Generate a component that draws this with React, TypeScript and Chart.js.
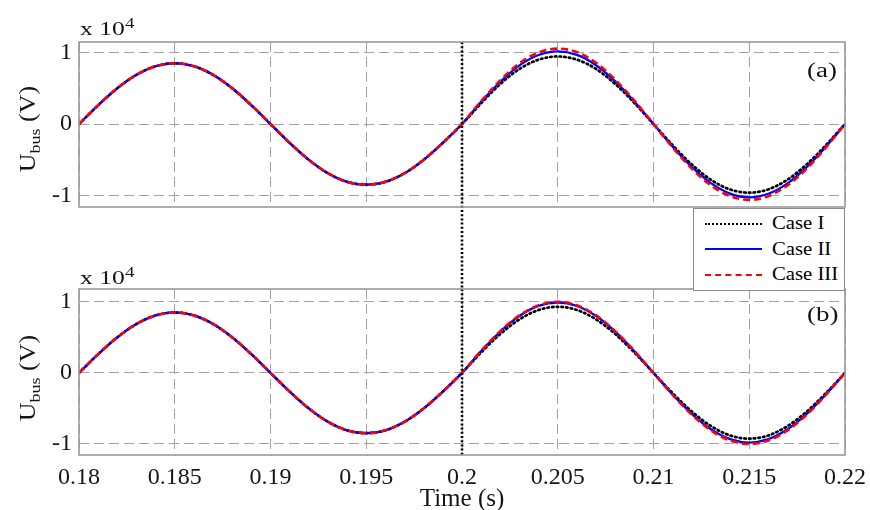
import React, { useEffect, useRef } from "react";
import { Chart, registerables } from "chart.js";
Chart.register(...registerables);

// Time (s)
const timeS = [
  0.18, 0.181, 0.182, 0.183, 0.184, 0.185, 0.186, 0.187, 0.188, 0.189,
  0.19, 0.191, 0.192, 0.193, 0.194, 0.195, 0.196, 0.197, 0.198, 0.199,
  0.2, 0.201, 0.202, 0.203, 0.204, 0.205, 0.206, 0.207, 0.208, 0.209,
  0.21, 0.211, 0.212, 0.213, 0.214, 0.215, 0.216, 0.217, 0.218, 0.219, 0.22,
];

// U_bus (x10^4 V) common to all cases, 0.180 .. 0.199 s
const preFault = [
  0, 0.263, 0.5, 0.688, 0.808, 0.85, 0.808, 0.688, 0.5, 0.263,
  0, -0.263, -0.5, -0.688, -0.808, -0.848, -0.808, -0.688, -0.5, -0.263,
];

// 0.200 .. 0.220 s, panel (a)
const caseIa = [
  0, 0.29, 0.56, 0.77, 0.9, 0.945, 0.9, 0.77, 0.56, 0.295,
  0, -0.297, -0.565, -0.78, -0.915, -0.96, -0.913, -0.777, -0.564, -0.296, 0,
];
const caseIIa = [
  0, 0.31, 0.59, 0.82, 0.965, 1.015, 0.966, 0.822, 0.598, 0.315,
  0, -0.316, -0.6, -0.826, -0.972, -1.025, -0.975, -0.83, -0.603, -0.317, 0,
];
const caseIIIa = [
  0, 0.32, 0.61, 0.85, 1.0, 1.055, 1.005, 0.855, 0.62, 0.327,
  0, -0.328, -0.624, -0.858, -1.008, -1.06, -1.008, -0.858, -0.624, -0.328, 0,
];

// 0.200 .. 0.220 s, panel (b)
const caseIb = [
  0, 0.287, 0.547, 0.752, 0.885, 0.93, 0.885, 0.752, 0.547, 0.287,
  0, -0.286, -0.544, -0.748, -0.88, -0.925, -0.88, -0.748, -0.544, -0.286, 0,
];
const caseIIb = [
  0, 0.306, 0.582, 0.801, 0.942, 0.99, 0.941, 0.8, 0.58, 0.305,
  0, -0.303, -0.576, -0.793, -0.932, -0.98, -0.932, -0.793, -0.576, -0.303, 0,
];
const caseIIIb = [
  0, 0.309, 0.588, 0.809, 0.951, 1.0, 0.951, 0.809, 0.588, 0.309,
  0, -0.309, -0.588, -0.809, -0.951, -1.0, -0.951, -0.809, -0.588, -0.309, 0,
];

const seriesLabels = ["Case I", "Case II", "Case III"];
const xTickValues = [0.18, 0.185, 0.19, 0.195, 0.2, 0.205, 0.21, 0.215, 0.22];
const xTickLabels = ["0.18", "0.185", "0.19", "0.195", "0.2", "0.205", "0.21", "0.215", "0.22"];
const yTickValues = [-1, 0, 1];
const yTickLabels = ["-1", "0", "1"];
const faultTime = 0.2;

const SERIF = "'Liberation Serif', 'DejaVu Serif', serif";
const GRID = "#a3a3a3";
const TEXT = "#151515";

const framePlugin = {
  id: "frame",
  afterDatasetsDraw(chart: any, _args: any, opts: any) {
    const { ctx, chartArea } = chart;
    const x = chart.scales.x.getPixelForValue(faultTime);
    ctx.save();
    ctx.strokeStyle = "#000";
    ctx.lineWidth = 2.6;
    ctx.setLineDash([2, 2.2]);
    ctx.beginPath();
    ctx.moveTo(x, chartArea.top);
    ctx.lineTo(x, chartArea.bottom + (opts.extendBottom || 0));
    ctx.stroke();
    ctx.restore();
  },
  afterDraw(chart: any) {
    const { ctx, chartArea } = chart;
    ctx.save();
    ctx.strokeStyle = "#9a9a9a";
    ctx.lineWidth = 1.6;
    ctx.setLineDash([]);
    ctx.strokeRect(chartArea.left, chartArea.top, chartArea.right - chartArea.left, chartArea.bottom - chartArea.top);
    ctx.restore();
  },
};

function makeDataset(label: string, values: number[], color: string, dash: number[], width: number, order: number, cap: string) {
  return {
    label,
    data: timeS.map((t, i) => ({ x: t, y: values[i] })),
    borderColor: color,
    borderWidth: width,
    borderDash: dash,
    borderCapStyle: cap,
    pointRadius: 0,
    fill: false,
    cubicInterpolationMode: "monotone",
    order,
  };
}

function makeConfig(s1: number[], s2: number[], s3: number[], bottom: boolean): any {
  return {
    type: "line",
    data: {
      datasets: [
        makeDataset(seriesLabels[0], preFault.concat(s1), "#000000", [1.5, 3.2], 2.7, 3, "round"),
        makeDataset(seriesLabels[1], preFault.concat(s2), "#0000ff", [], 2.3, 2, "butt"),
        makeDataset(seriesLabels[2], preFault.concat(s3), "#ff0000", [7, 4], 2.6, 1, "butt"),
      ],
    },
    options: {
      animation: false,
      responsive: false,
      maintainAspectRatio: false,
      layout: {
        padding: bottom
          ? { top: 289, right: 25, bottom: 0, left: 0 }
          : { top: 42, right: 25, bottom: 303, left: 0 },
      },
      plugins: {
        legend: { display: false },
        tooltip: { enabled: false },
        frame: { extendBottom: bottom ? 0 : 82 },
      },
      scales: {
        x: {
          type: "linear",
          min: 0.18,
          max: 0.22,
          afterBuildTicks: (scale: any) => {
            scale.ticks = xTickValues.map((v) => ({ value: v }));
          },
          afterFit: (scale: any) => {
            scale.height = bottom ? 55 : 0;
            scale.paddingLeft = 0;
            scale.paddingRight = 0;
          },
          ticks: {
            display: bottom,
            padding: 8,
            color: TEXT,
            font: { family: SERIF, size: 24 },
            maxRotation: 0,
            autoSkip: false,
            callback: (v: number) => {
              const i = xTickValues.findIndex((t) => Math.abs(t - v) < 1e-9);
              return i >= 0 ? xTickLabels[i] : "";
            },
          },
          title: {
            display: bottom,
            text: "Time (s)",
            color: TEXT,
            font: { family: SERIF, size: 25, lineHeight: 0.85 },
            padding: { top: 0, bottom: 0 },
          },
          grid: { color: GRID, lineWidth: 1, drawTicks: false },
          border: { display: false, dash: [10, 5] },
        },
        y: {
          type: "linear",
          min: bottom ? -1.155 : -1.16,
          max: bottom ? 1.18 : 1.147,
          afterBuildTicks: (scale: any) => {
            scale.ticks = yTickValues.map((v) => ({ value: v }));
          },
          afterFit: (scale: any) => {
            scale.width = 79;
            scale.paddingTop = 0;
            scale.paddingBottom = 0;
          },
          ticks: {
            padding: 7,
            color: TEXT,
            font: { family: SERIF, size: 24 },
            callback: (v: number) => {
              const i = yTickValues.indexOf(v);
              return i >= 0 ? yTickLabels[i] : "";
            },
          },
          grid: { color: GRID, lineWidth: 1, drawTicks: false },
          border: { display: false, dash: [10, 5] },
        },
      },
    },
    plugins: [framePlugin],
  };
}

const abs = (s: any): React.CSSProperties => ({ position: "absolute", ...s });

function YLabel({ cy }: { cy: number }) {
  return (
    <div
      style={abs({
        left: 28 - 70,
        top: cy - 15,
        width: 140,
        height: 30,
        lineHeight: "30px",
        textAlign: "center",
        transform: "rotate(-90deg) scaleY(0.85)",
        fontFamily: SERIF,
        fontSize: 26,
        color: TEXT,
        whiteSpace: "nowrap",
      })}
    >
      U<sub style={{ fontSize: 18, verticalAlign: "-6px" }}>bus</sub> (V)
    </div>
  );
}

function Exponent({ top }: { top: number }) {
  return (
    <div
      style={abs({
        left: 80,
        top,
        fontFamily: SERIF,
        fontSize: 19,
        color: TEXT,
        whiteSpace: "nowrap",
        lineHeight: "20px",
        transform: "scaleX(1.35)",
        transformOrigin: "left center",
      })}
    >
      x 10<sup style={{ fontSize: 14, verticalAlign: "7px" }}>4</sup>
    </div>
  );
}

function PanelTag({ top, text }: { top: number; text: string }) {
  return (
    <div
      style={abs({
        left: 807,
        top,
        fontFamily: SERIF,
        fontSize: 20,
        lineHeight: "22px",
        color: TEXT,
        transform: "scaleX(1.35)",
        transformOrigin: "left center",
      })}
    >
      {text}
    </div>
  );
}

function LegendRow({ label, style }: { label: string; style: string }) {
  return (
    <div style={{ display: "flex", alignItems: "center", height: 25.5 }}>
      <div style={{ width: 57, marginLeft: 11, marginRight: 10, borderTop: style }} />
      <span
        style={{
          fontFamily: SERIF,
          fontSize: 18,
          color: "#000",
          display: "inline-block",
          transform: "scaleX(1.15)",
          transformOrigin: "left center",
          whiteSpace: "nowrap",
        }}
      >
        {label}
      </span>
    </div>
  );
}

export default function App() {
  const topRef = useRef<HTMLCanvasElement>(null);
  const botRef = useRef<HTMLCanvasElement>(null);

  useEffect(() => {
    const c1 = new Chart(topRef.current!, makeConfig(caseIa, caseIIa, caseIIIa, false));
    const c2 = new Chart(botRef.current!, makeConfig(caseIb, caseIIb, caseIIIb, true));
    return () => {
      c1.destroy();
      c2.destroy();
    };
  }, []);

  return (
    <div style={abs({ left: 0, top: 0, width: 870, height: 510, background: "#fff", overflow: "hidden" })}>
      <canvas ref={topRef} width={870} height={510} style={abs({ left: 0, top: 0, width: 870, height: 510 })} />
      <canvas ref={botRef} width={870} height={510} style={abs({ left: 0, top: 0, width: 870, height: 510 })} />
      <YLabel cy={129} />
      <YLabel cy={378} />
      <Exponent top={14} />
      <Exponent top={263} />
      <PanelTag top={59} text="(a)" />
      <PanelTag top={303} text="(b)" />
      <div
        style={abs({
          left: 693,
          top: 208,
          width: 150,
          height: 79,
          border: "1px solid #8a8a8a",
          background: "#fff",
          paddingTop: 2,
        })}
      >
        <LegendRow label={seriesLabels[0]} style="2.5px dotted #000" />
        <LegendRow label={seriesLabels[1]} style="2.2px solid #0000ff" />
        <LegendRow label={seriesLabels[2]} style="2.5px dashed #ff0000" />
      </div>
    </div>
  );
}
